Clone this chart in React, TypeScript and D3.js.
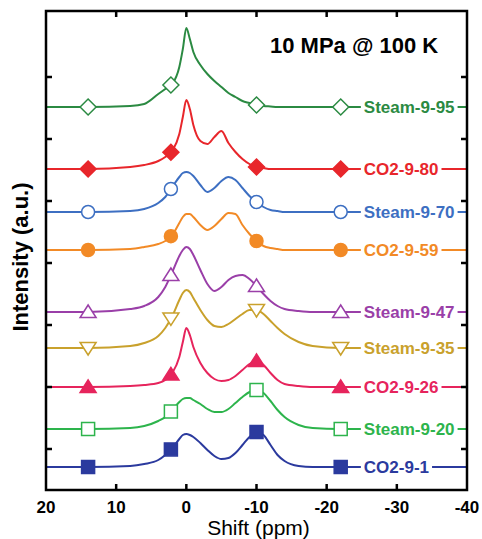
import * as d3 from "d3"
import { useEffect, useRef } from "react"

// chemical shift grid (ppm), shared by all spectra
const shifts = [20, 14, 8, 6, 4, 3, 2, 1, 0.5, 0, -0.5, -1, -2, -3, -4, -5, -6, -7, -8, -9, -10, -11, -12, -13, -14, -16, -18, -22, -30, -40]

const seriesNames = ["Steam-9-95", "CO2-9-80", "Steam-9-70", "CO2-9-59", "Steam-9-47", "Steam-9-35", "CO2-9-26", "Steam-9-20", "CO2-9-1"]
// vertical stacking offsets (a.u.)
const seriesOffsets = [342, 280, 237, 199, 137, 101, 62, 20, -18]

// intensities above each offset (a.u.), one value per shift
const steam95 = [0, 0, 1, 3, 13, 18, 23, 40, 58, 79, 68, 55, 42, 33, 26, 20, 14, 10, 6, 4, 2, 1, 0.5, 0, 0, 0, 0, 0, 0, 0]
const co2_80 = [0, 0, 2, 4, 8, 12, 18, 35, 52, 69, 60, 44, 28, 25, 32, 38, 26, 17, 10, 5, 2, 1, 0, 0, 0, 0, 0, 0, 0, 0]
const steam70 = [0, 0, 1, 3, 9, 15, 25, 35, 39, 40, 39, 36, 27, 20, 24, 31, 35, 32, 24, 16, 10, 5, 2, 1, 0, 0, 0, 0, 0, 0]
const co2_59 = [0, 0, 1, 3, 6, 9, 15, 27, 33, 36, 36, 33, 25, 20, 24, 31, 37, 36, 25, 16, 9, 4, 2, 1, 0, 0, 0, 0, 0, 0]
const steam47 = [0, 0, 3, 6, 15, 25, 40, 56, 62, 65, 63, 57, 42, 28, 21, 25, 32, 36, 37, 33, 26, 18, 11, 6, 3, 1, 0, 0, 0, 0]
const steam35 = [0, 0, 2, 5, 12, 20, 32, 48, 55, 58, 56, 50, 38, 28, 22, 21, 24, 29, 34, 38, 38, 34, 27, 20, 14, 6, 2, 0, 0, 0]
const co2_26 = [0, 0, 1, 2, 4, 7, 14, 30, 45, 59, 52, 40, 24, 14, 8, 6, 7, 11, 17, 23, 26, 22, 14, 7, 3, 1, 0, 0, 0, 0]
const steam20 = [0, 0, 1, 3, 8, 12, 19, 27, 30, 31, 31, 29, 25, 20, 17, 17, 20, 26, 32, 37, 39, 36, 28, 19, 12, 4, 1, 0, 0, 0]
const co2_1 = [0, 0, 1, 3, 7, 12, 19, 28, 32, 33, 32, 30, 24, 17, 11, 8, 9, 14, 22, 30, 35, 32, 22, 12, 6, 1, 0, 0, 0, 0]

const seriesValues = [steam95, co2_80, steam70, co2_59, steam47, steam35, co2_26, steam20, co2_1]
const seriesColors = ["#2b8a42", "#e8262b", "#3d6fc2", "#f28a26", "#9a3fa8", "#c9a12c", "#e6245c", "#2db44c", "#2b3a9e"]
const seriesSymbols = ["diamond", "diamond", "circle", "circle", "triangle", "triangleDown", "triangle", "square", "square"]
const seriesFilled = [false, true, false, true, false, false, true, false, true]

// marker positions along the shift axis
const markerShifts = [14, 2.2, -10, -22]

const xTicks = [20, 10, 0, -10, -20, -30, -40]
const yTicks = [0, 62, 124, 186, 248, 310, 372]

const symbolPath = (type) => {
	switch (type) {
		case "diamond": return "M0,-8L8,0L0,8L-8,0Z"
		case "circle": return "M6.5,0A6.5,6.5 0 1,1 -6.5,0A6.5,6.5 0 1,1 6.5,0Z"
		case "triangle": return "M0,-7L8,5.5L-8,5.5Z"
		case "triangleDown": return "M0,7L8,-5.5L-8,-5.5Z"
		default: return "M-6.5,-6.5L6.5,-6.5L6.5,6.5L-6.5,6.5Z"
	}
}

export default function App() {

	const svgRef = useRef(null)

	useEffect(() => {
		const width = 482
		const height = 539
		const margin = { top: 11, left: 46, right: 15, bottom: 49 }
		const font = "'Liberation Sans', Arial, sans-serif"

		const svg = d3.select(svgRef.current)
		svg.selectAll('*').remove()

		const x = d3.scaleLinear()
			.domain([20, -40])
			.range([margin.left, width - margin.right])

		const y = d3.scaleLinear()
			.domain([-41, 438])
			.range([height - margin.bottom, margin.top])

		const line = d3.line()
			.x(d => x(d[0]))
			.y(d => y(d[1]))
			.curve(d3.curveMonotoneX)

		const plot = svg.append('g')

		seriesNames.forEach((name, i) => {
			const pts = shifts.map((s, k) => [s, seriesOffsets[i] + seriesValues[i][k]])
			const color = seriesColors[i]

			plot.append('path')
				.attr('d', line(pts))
				.attr('fill', 'none')
				.attr('stroke', color)
				.attr('stroke-width', 2)

			// label with white knock-out box
			const lx = x(-25.3)
			const ly = y(seriesOffsets[i])
			const box = plot.append('rect')
			const label = plot.append('text')
				.attr('x', lx)
				.attr('y', ly + 6)
				.attr('fill', color)
				.style('font-family', font)
				.style('font-weight', 'bold')
				.style('font-size', '17px')
				.text(name)
			const bb = label.node().getBBox()
			box.attr('x', bb.x - 3)
				.attr('y', ly - 8)
				.attr('width', bb.width + 6)
				.attr('height', 16)
				.attr('fill', 'white')

			// markers sit on the interpolated curve
			const interp = d3.scaleLinear()
				.domain(shifts)
				.range(pts.map(p => p[1]))
			markerShifts.forEach(ms => {
				plot.append('path')
					.attr('d', symbolPath(seriesSymbols[i]))
					.attr('transform', `translate(${x(ms)},${y(interp(ms))})`)
					.attr('fill', seriesFilled[i] ? color : 'white')
					.attr('stroke', color)
					.attr('stroke-width', 1.5)
			})
		})

		// frame
		const frame = svg.append('g')
			.attr('stroke', 'black')
			.attr('stroke-width', 2.5)
		frame.append('rect')
			.attr('x', margin.left)
			.attr('y', margin.top)
			.attr('width', width - margin.left - margin.right)
			.attr('height', height - margin.top - margin.bottom)
			.attr('fill', 'none')

		// x ticks (top and bottom, inward)
		xTicks.slice(1, -1).forEach(t => {
			frame.append('line')
				.attr('x1', x(t)).attr('x2', x(t))
				.attr('y1', height - margin.bottom).attr('y2', height - margin.bottom - 6)
			frame.append('line')
				.attr('x1', x(t)).attr('x2', x(t))
				.attr('y1', margin.top).attr('y2', margin.top + 6)
		})
		// y ticks (left and right, inward)
		yTicks.forEach(t => {
			frame.append('line')
				.attr('x1', margin.left).attr('x2', margin.left + 6)
				.attr('y1', y(t)).attr('y2', y(t))
			frame.append('line')
				.attr('x1', width - margin.right).attr('x2', width - margin.right - 6)
				.attr('y1', y(t)).attr('y2', y(t))
		})

		// x tick labels
		svg.append('g')
			.selectAll('text')
			.data(xTicks)
			.enter()
			.append('text')
			.attr('x', d => x(d))
			.attr('y', height - margin.bottom + 23)
			.attr('text-anchor', 'middle')
			.style('font-family', font)
			.style('font-weight', 'bold')
			.style('font-size', '17px')
			.text(d => String(d))

		// axis titles
		svg.append('text')
			.attr('x', (margin.left + width - margin.right) / 2 + 2)
			.attr('y', 535)
			.attr('text-anchor', 'middle')
			.style('font-family', font)
			.style('font-size', '21px')
			.text('Shift (ppm)')

		svg.append('text')
			.attr('transform', 'translate(28,257) rotate(-90)')
			.attr('text-anchor', 'middle')
			.style('font-family', font)
			.style('font-weight', 'bold')
			.style('font-size', '22px')
			.text('Intensity (a.u.)')

		svg.append('text')
			.attr('x', 270)
			.attr('y', 53)
			.style('font-family', font)
			.style('font-weight', 'bold')
			.style('font-size', '22px')
			.text('10 MPa @ 100 K')
	}, [])

	return <svg ref={svgRef} width={482} height={539} style={{ position: 'absolute', left: 0, top: 0, background: 'white' }} />
}
